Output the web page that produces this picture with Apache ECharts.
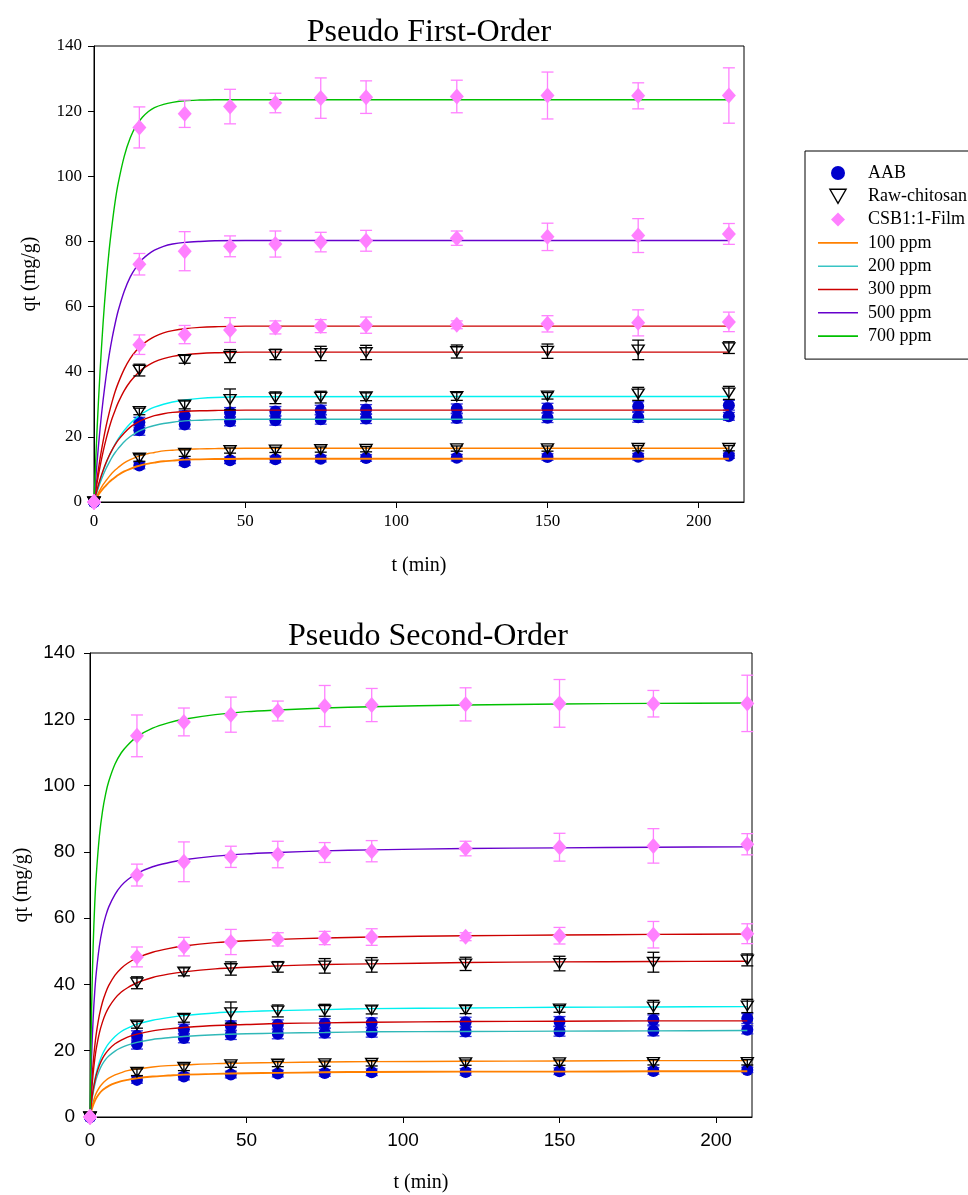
<!DOCTYPE html>
<html><head><meta charset="utf-8">
<script src="https://cdn.jsdelivr.net/npm/echarts@6/dist/echarts.min.js"></script>
<style>html,body{margin:0;padding:0;background:#fff}#c{width:968px;height:1195px}</style>
</head><body><div id="c"></div>
<script>
// ---- measured points (t in min) ----
const times = [0, 15, 30, 45, 60, 75, 90, 120, 150, 180, 210];
const aab100 = [0, 11.2, 12.2, 12.8, 13.1, 13.3, 13.5, 13.6, 13.8, 13.9, 14.2];
const aab100Err = [0, 1.0, 1.0, 1.0, 1.0, 1.0, 1.0, 1.0, 1.0, 1.0, 0.8];
const aab200 = [0, 22.0, 23.8, 24.8, 25.1, 25.4, 25.6, 25.8, 25.9, 26.0, 26.3];
const aab200Err = [0, 1.5, 1.4, 1.4, 1.5, 1.5, 1.5, 1.5, 1.5, 1.5, 1.2];
const aab300 = [0, 24.5, 26.5, 27.5, 27.8, 28.2, 28.4, 28.6, 28.8, 29.3, 29.7];
const aab300Err = [0, 1.5, 1.5, 1.5, 1.5, 1.5, 1.5, 1.5, 1.5, 1.5, 1.5];
const raw100 = [0, 13.5, 15.0, 15.8, 16.0, 16.1, 16.2, 16.4, 16.4, 16.5, 16.5];
const raw100Err = [0, 1.0, 1.0, 0.8, 0.8, 0.8, 0.8, 0.8, 0.8, 0.8, 0.8];
const raw200 = [0, 27.8, 29.8, 31.5, 32.0, 32.2, 32.3, 32.4, 32.6, 33.2, 33.5];
const raw200Err = [0, 1.0, 1.2, 3.2, 1.8, 1.8, 1.2, 1.2, 1.0, 2.0, 2.0];
const raw300 = [0, 40.5, 43.8, 44.8, 45.3, 45.6, 45.9, 46.2, 46.3, 46.7, 47.4];
const raw300Err = [0, 1.8, 1.2, 2.0, 1.6, 2.2, 2.2, 2.0, 2.2, 3.0, 1.8];
const csb300 = [0, 48.3, 51.4, 52.8, 53.6, 54.0, 54.3, 54.4, 54.7, 55.0, 55.3];
const csb300Err = [0, 3.0, 2.8, 3.8, 2.0, 2.0, 2.5, 1.2, 2.5, 4.0, 3.0];
const csb500 = [0, 73.0, 77.0, 78.5, 79.2, 79.8, 80.2, 81.0, 81.4, 81.8, 82.3];
const csb500Err = [0, 3.3, 6.0, 3.2, 4.0, 3.0, 3.2, 2.2, 4.2, 5.2, 3.2];
const csb700 = [0, 115.0, 119.2, 121.4, 122.5, 124.0, 124.3, 124.5, 124.8, 124.7, 124.8];
const csb700Err = [0, 6.3, 4.2, 5.3, 3.0, 6.2, 5.0, 5.0, 7.2, 4.0, 8.5];

// ---- fitted curves: pseudo first-order ----
const pfoT = [0, 1, 2, 3, 4, 5, 6, 7, 8, 10, 12, 14, 16, 18, 20, 23, 26, 30, 35, 40, 50, 210];
const pfoAab100 = [0, 1.5, 2.9, 4.1, 5.1, 6.1, 6.9, 7.6, 8.3, 9.4, 10.2, 10.9, 11.4, 11.8, 12.1, 12.5, 12.7, 13.0, 13.1, 13.2, 13.3, 13.3];
const pfoRaw100 = [0, 2.0, 3.7, 5.3, 6.6, 7.8, 8.9, 9.8, 10.6, 12.0, 13.0, 13.8, 14.4, 14.9, 15.2, 15.7, 15.9, 16.2, 16.3, 16.4, 16.5, 16.5];
const pfoAab200 = [0, 3.1, 5.8, 8.2, 10.3, 12.1, 13.8, 15.2, 16.4, 18.5, 20.1, 21.3, 22.2, 23.0, 23.5, 24.1, 24.5, 24.9, 25.1, 25.3, 25.4, 25.4];
const pfoRaw200 = [0, 3.5, 6.6, 9.4, 11.9, 14.1, 16.0, 17.8, 19.4, 22.0, 24.1, 25.8, 27.2, 28.3, 29.1, 30.0, 30.7, 31.3, 31.8, 32.1, 32.3, 32.4];
const pfoAab300 = [0, 3.7, 6.9, 9.7, 12.1, 14.2, 16.0, 17.6, 19.0, 21.2, 23.0, 24.2, 25.2, 25.9, 26.5, 27.1, 27.5, 27.8, 28.0, 28.1, 28.2, 28.2];
const pfoRaw300 = [0, 5.8, 10.9, 15.4, 19.3, 22.7, 25.7, 28.2, 30.5, 34.2, 37.0, 39.1, 40.8, 42.0, 43.0, 44.0, 44.7, 45.2, 45.6, 45.8, 46.0, 46.0];
const pfoCsb300 = [0, 7.1, 13.3, 18.6, 23.3, 27.3, 30.8, 33.9, 36.5, 40.8, 44.1, 46.5, 48.3, 49.7, 50.8, 51.9, 52.6, 53.2, 53.6, 53.8, 54.0, 54.0];
const pfoCsb500 = [0, 12.1, 22.5, 31.2, 38.6, 45.0, 50.3, 54.8, 58.7, 64.7, 69.1, 72.2, 74.5, 76.1, 77.3, 78.5, 79.2, 79.7, 80.0, 80.2, 80.3, 80.3];
const pfoCsb700 = [0, 22.0, 40.0, 54.9, 67.1, 77.2, 85.3, 92.3, 97.8, 106.1, 111.8, 115.6, 118.1, 119.9, 121.1, 122.1, 122.7, 123.2, 123.4, 123.5, 123.5, 123.5];

// ---- fitted curves: pseudo second-order ----
const psoT = [0, 0.5, 1, 1.5, 2, 3, 4, 5, 6, 8, 10, 12, 15, 20, 25, 30, 40, 50, 60, 75, 90, 120, 150, 180, 210];
const psoAab100 = [0, 2.0, 3.6, 4.7, 5.7, 7.1, 8.1, 8.8, 9.4, 10.2, 10.8, 11.2, 11.7, 12.2, 12.5, 12.8, 13.0, 13.2, 13.3, 13.5, 13.6, 13.7, 13.7, 13.8, 13.8];
const psoRaw100 = [0, 2.6, 4.5, 6.0, 7.2, 8.9, 10.1, 11.0, 11.7, 12.7, 13.4, 14.0, 14.5, 15.1, 15.5, 15.7, 16.1, 16.3, 16.4, 16.6, 16.7, 16.8, 16.9, 17.0, 17.0];
const psoAab200 = [0, 4.3, 7.3, 9.6, 11.5, 14.1, 16.0, 17.4, 18.4, 19.9, 20.9, 21.7, 22.5, 23.4, 23.9, 24.3, 24.8, 25.1, 25.3, 25.5, 25.7, 25.8, 25.9, 26.0, 26.1];
const psoRaw200 = [0, 4.7, 8.2, 11.0, 13.2, 16.6, 19.0, 20.8, 22.2, 24.3, 25.8, 26.8, 28.0, 29.2, 30.0, 30.6, 31.4, 31.8, 32.1, 32.4, 32.7, 32.9, 33.1, 33.2, 33.3];
const psoAab300 = [0, 4.7, 8.1, 10.6, 12.7, 15.6, 17.7, 19.2, 20.4, 22.1, 23.2, 24.1, 25.0, 26.0, 26.6, 27.0, 27.6, 27.9, 28.2, 28.4, 28.6, 28.8, 28.9, 29.0, 29.0];
const psoRaw300 = [0, 7.6, 13.1, 17.3, 20.6, 25.4, 28.7, 31.2, 33.1, 35.8, 37.7, 39.0, 40.5, 42.1, 43.1, 43.8, 44.7, 45.2, 45.6, 46.0, 46.2, 46.6, 46.8, 46.9, 47.0];
const psoCsb300 = [0, 9.5, 16.2, 21.2, 25.1, 30.8, 34.7, 37.5, 39.7, 42.8, 44.9, 46.4, 48.0, 49.7, 50.8, 51.6, 52.6, 53.2, 53.6, 54.0, 54.3, 54.7, 54.9, 55.1, 55.2];
const psoCsb500 = [0, 18.0, 29.6, 37.6, 43.5, 51.6, 56.9, 60.6, 63.4, 67.2, 69.8, 71.6, 73.5, 75.5, 76.7, 77.6, 78.7, 79.4, 79.8, 80.3, 80.6, 81.0, 81.2, 81.4, 81.5];
const psoCsb700 = [0, 32.3, 51.4, 64.0, 72.9, 84.8, 92.3, 97.5, 101.3, 106.5, 109.9, 112.2, 114.7, 117.3, 118.9, 120.0, 121.4, 122.3, 122.8, 123.4, 123.8, 124.3, 124.6, 124.8, 124.9];

const titles = ['Pseudo First-Order', 'Pseudo Second-Order'];
const materialNames = ['AAB', 'Raw-chitosan', 'CSB1:1-Film'];
const concNames = ['100 ppm', '200 ppm', '300 ppm', '500 ppm', '700 ppm'];
const xTicks = [0, 50, 100, 150, 200];
const yTicks = [0, 20, 40, 60, 80, 100, 120, 140];

// ---- styling ----
const SERIF = 'Liberation Serif', SANS = 'Liberation Sans';
const COL = {orange:'#ff8000', cyan:'#00f0f0', teal:'#30b8b8', red:'#cc0000', purple:'#6600cc', green:'#00c000',
             blue:'#0000cc', pink:'#ff80ff'};
const TRI = 'path://M0,0L12,0L6,10.4Z';
const DIA = 'path://M7,0L14,7L7,14L0,7Z';
const LINEICON = 'path://M0,0L40,0L40,1.6L0,1.6Z';

function pts(arr){ return times.map((t,i)=>[t, arr[i]]); }
function errPts(arr, err){ return times.map((t,i)=>[t, arr[i], err[i]]).filter(d=>d[2]>0); }
function curve(ts, arr){ return ts.map((t,i)=>[t, arr[i]]); }

function errSeries(p, data, color, z){
  return {type:'custom', name:'err', xAxisIndex:p, yAxisIndex:p, z:z, silent:true, animation:false,
    data:data,
    renderItem:function(params, api){
      const x = api.value(0), y = api.value(1), e = api.value(2);
      const a = api.coord([x, y+e]), b = api.coord([x, y-e]);
      const hw = 6, st = {stroke:color, lineWidth:1.3};
      return {type:'group', children:[
        {type:'line', shape:{x1:a[0], y1:a[1], x2:b[0], y2:b[1]}, style:st},
        {type:'line', shape:{x1:a[0]-hw, y1:a[1], x2:a[0]+hw, y2:a[1]}, style:st},
        {type:'line', shape:{x1:b[0]-hw, y1:b[1], x2:b[0]+hw, y2:b[1]}, style:st}
      ]};
    }};
}
function scatter(p, name, data, sym, size, itemStyle, z){
  return {type:'scatter', name:name, xAxisIndex:p, yAxisIndex:p, data:data, symbol:sym, symbolSize:size,
    symbolKeepAspect:true, itemStyle:Object.assign({opacity:1}, itemStyle), z:z, silent:true, animation:false};
}
function line(p, name, data, color, w){
  return {type:'line', name:name, xAxisIndex:p, yAxisIndex:p, data:data, symbol:'none', showSymbol:false,
    smooth:0.3, lineStyle:{color:color, width:w||1.4}, itemStyle:{color:color},
    z:3, silent:true, animation:false};
}

const series = [];
const fits = [
  [pfoAab100, pfoRaw100, pfoAab200, pfoRaw200, pfoAab300, pfoRaw300, pfoCsb300, pfoCsb500, pfoCsb700],
  [psoAab100, psoRaw100, psoAab200, psoRaw200, psoAab300, psoRaw300, psoCsb300, psoCsb500, psoCsb700]
];
const fitTs = [pfoT, psoT];
const fitMeta = [
  [concNames[0], COL.orange, 1.9], [concNames[0], COL.orange, 1.4],
  [concNames[1], COL.teal, 1.4], [concNames[1], COL.cyan, 1.4],
  [concNames[2], COL.red, 1.4], [concNames[2], COL.red, 1.4], [concNames[2], COL.red, 1.4],
  [concNames[3], COL.purple, 1.4], [concNames[4], COL.green, 1.4]
];
for (let p = 0; p < 2; p++) {
  [[aab100,aab100Err],[aab200,aab200Err],[aab300,aab300Err]].forEach(([v,e])=>{
    series.push(errSeries(p, errPts(v,e), '#3030dd', 1));
    series.push(scatter(p, materialNames[0], pts(v), 'circle', 12, {color:COL.blue}, 2));
  });
  fits[p].forEach((arr,i)=>{
    const m = fitMeta[i];
    series.push(line(p, m[0], curve(fitTs[p], arr), m[1], m[2]));
  });
  [[raw100,raw100Err],[raw200,raw200Err],[raw300,raw300Err]].forEach(([v,e])=>{
    series.push(errSeries(p, errPts(v,e), '#000', 4));
    series.push(scatter(p, materialNames[1], pts(v), TRI, [12,11],
      {color:'rgba(255,255,255,0)', borderColor:'#000', borderWidth:1.4}, 5));
  });
  [[csb300,csb300Err],[csb500,csb500Err],[csb700,csb700Err]].forEach(([v,e])=>{
    series.push(errSeries(p, errPts(v,e), COL.pink, 6));
    series.push(scatter(p, materialNames[2], pts(v), 'diamond', [14,16], {color:COL.pink}, 7));
  });
}

const grids = [
  {left:94, top:46, width:650, height:456},
  {left:90, top:653, width:662, height:464}
];
const xMax = [215, 211.5];
const tickFont = [SERIF, SANS];
const tickSize = [17, 19];
const legendLineColors = [COL.orange, '#38c4c4', COL.red, COL.purple, COL.green];

const option = {
  backgroundColor:'#fff',
  animation:false,
  title: titles.map((t,p)=>({text:t, left:[429, 428][p], top:[17, 621][p], textAlign:'center', padding:0,
    textStyle:{fontFamily:SERIF, fontSize:32, fontWeight:'normal', color:'#000'}})),
  grid: grids.map(g=>Object.assign({show:true, borderColor:'#000', borderWidth:1, backgroundColor:'transparent'}, g)),
  xAxis: [0,1].map(p=>({type:'value', gridIndex:p, min:0, max:xMax[p], interval:50,
    name:'t (min)', nameLocation:'middle', nameGap:[54,56][p],
    nameTextStyle:{fontFamily:SERIF, fontSize:20, color:'#000'},
    axisLine:{show:true, onZero:false, lineStyle:{color:'#000', width:1}},
    axisTick:{show:true, inside:false, length:6, lineStyle:{color:'#000'}, customValues:xTicks},
    axisLabel:{margin:[11,14][p], fontFamily:tickFont[p], fontSize:tickSize[p], color:'#000', customValues:xTicks,
      formatter:v=> xTicks.includes(v) ? String(v) : ''},
    splitLine:{show:false}})),
  yAxis: [0,1].map(p=>({type:'value', gridIndex:p, min:0, max:140, interval:20,
    name:'qt (mg/g)', nameLocation:'middle', nameRotate:90, nameGap:[54,58][p],
    nameTextStyle:{fontFamily:SERIF, fontSize:20, color:'#000'},
    axisLine:{show:true, onZero:false, lineStyle:{color:'#000', width:1}},
    axisTick:{show:true, inside:false, length:6, lineStyle:{color:'#000'}},
    axisLabel:{margin:[12,15][p], fontFamily:tickFont[p], fontSize:tickSize[p], color:'#000',
      formatter:v=> yTicks.includes(v) ? String(v) : ''},
    splitLine:{show:false}})),
  legend: {
    show:true, orient:'vertical', left:805, top:151, padding:[13, 14, 14, 13],
    itemWidth:40, itemHeight:14, itemGap:5.3, selectedMode:false, symbolKeepAspect:true,
    borderColor:'#000', borderWidth:1, backgroundColor:'#fff',
    textStyle:{fontFamily:SERIF, fontSize:18, lineHeight:18, color:'#000', padding:[0,0,0,5]},
    data:[
      {name:materialNames[0], icon:'circle', itemStyle:{color:COL.blue, opacity:1}},
      {name:materialNames[1], icon:TRI, itemStyle:{color:'#fff', borderColor:'#000', borderWidth:1.4}},
      {name:materialNames[2], icon:DIA, itemStyle:{color:COL.pink, opacity:1}}
    ].concat(concNames.map((n,i)=>({name:n, icon:LINEICON,
      itemStyle:{color:legendLineColors[i], borderWidth:0, opacity:1}})))
  },
  series: series
};
const chart = echarts.init(document.getElementById('c'), null, {renderer:'canvas'});
chart.setOption(option);
</script></body></html>
